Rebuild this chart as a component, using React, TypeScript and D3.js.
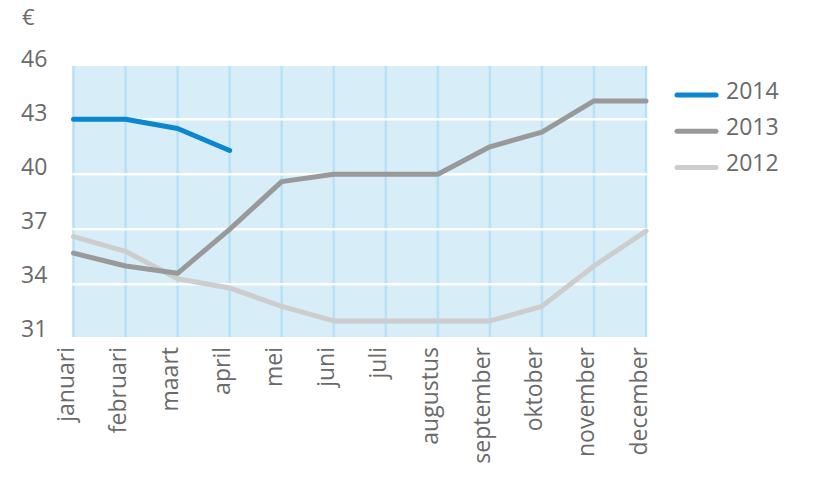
import React, { useRef, useEffect } from "react";
import * as d3 from "d3";

// maanden (x-as)
const months = [
  "januari",
  "februari",
  "maart",
  "april",
  "mei",
  "juni",
  "juli",
  "augustus",
  "september",
  "oktober",
  "november",
  "december",
];

// prijs per maand
const values2014 = [43.0, 43.0, 42.5, 41.3];
const values2013 = [35.7, 35.0, 34.6, 37.0, 39.6, 40.0, 40.0, 40.0, 41.5, 42.3, 44.0, 44.0];
const values2012 = [36.6, 35.8, 34.3, 33.8, 32.8, 32.0, 32.0, 32.0, 32.0, 32.8, 35.0, 36.9];

const yTicks = [31, 34, 37, 40, 43, 46];
const gridValues = [34, 37, 40, 43];

const seriesNames = ["2014", "2013", "2012"];
const seriesColors = ["#0a87d0", "#999999", "#cdcdcd"];

const W = 838;
const H = 494;
const FONT = "'Open Sans', 'DejaVu Sans', sans-serif";
const TEXT = "#6a6a6a";

const App: React.FC = () => {
  const svgRef = useRef<SVGSVGElement>(null);

  useEffect(() => {
    if (!svgRef.current) return;
    const svg = d3.select(svgRef.current);
    svg.selectAll("*").remove();

    const x = d3.scalePoint<string>().domain(months).range([73.5, 646]);
    const y = d3.scaleLinear().domain([31, 46]).range([339.3, 64.3]);
    // labels staan iets gelijkmatiger dan het raster
    const yLabel = d3.scaleLinear().domain([31, 46]).range([337, 67]);

    const left = x(months[0])! - 1;
    const right = x(months[months.length - 1])! + 1;
    const top = 66;
    const bottom = 337;

    // achtergrond
    svg
      .append("rect")
      .attr("x", left)
      .attr("y", top)
      .attr("width", right - left)
      .attr("height", bottom - top)
      .attr("fill", "#d7edf8");

    // verticale rasterlijnen
    svg
      .append("g")
      .selectAll("line")
      .data(months)
      .enter()
      .append("line")
      .attr("x1", (d) => x(d)!)
      .attr("x2", (d) => x(d)!)
      .attr("y1", top)
      .attr("y2", bottom)
      .attr("stroke", "#b8e1f6")
      .attr("stroke-width", 2.5);

    // horizontale witte lijnen
    svg
      .append("g")
      .selectAll("line")
      .data(gridValues)
      .enter()
      .append("line")
      .attr("x1", left)
      .attr("x2", right)
      .attr("y1", (d) => y(d))
      .attr("y2", (d) => y(d))
      .attr("stroke", "#ffffff")
      .attr("stroke-width", 2.5);

    // y-as labels
    svg
      .append("g")
      .selectAll("text")
      .data(yTicks)
      .enter()
      .append("text")
      .attr("x", 21)
      .attr("y", (d) => yLabel(d))
      .attr("font-family", FONT)
      .attr("font-size", 23)
      .attr("fill", TEXT)
      .text((d) => d);

    svg
      .append("text")
      .attr("x", 22)
      .attr("y", 25)
      .attr("font-family", FONT)
      .attr("font-size", 22)
      .attr("fill", TEXT)
      .text("€");

    // x-as labels (gedraaid)
    svg
      .append("g")
      .selectAll("text")
      .data(months)
      .enter()
      .append("text")
      .attr("transform", (d) => `translate(${x(d)! + 0.5},347) rotate(-90)`)
      .attr("text-anchor", "end")
      .attr("font-family", FONT)
      .attr("font-size", 23)
      .attr("fill", TEXT)
      .text((d) => d);

    // lijnen
    const line = d3
      .line<number>()
      .x((_, i) => x(months[i])!)
      .y((d) => y(d));

    const all = [values2014, values2013, values2012];
    [2, 1, 0].forEach((i) => {
      svg
        .append("path")
        .datum(all[i])
        .attr("fill", "none")
        .attr("stroke", seriesColors[i])
        .attr("stroke-width", 5)
        .attr("stroke-linejoin", "round")
        .attr("stroke-linecap", "round")
        .attr("d", line);
    });

    // legenda
    const legend = svg
      .append("g")
      .selectAll("g")
      .data(seriesNames)
      .enter()
      .append("g")
      .attr("transform", (_, i) => `translate(0,${95 + i * 36.3})`);

    legend
      .append("line")
      .attr("x1", 677)
      .attr("x2", 716)
      .attr("stroke", (_, i) => seriesColors[i])
      .attr("stroke-width", 5)
      .attr("stroke-linecap", "round");

    legend
      .append("text")
      .attr("x", 726)
      .attr("y", 3.5)
      .attr("font-family", FONT)
      .attr("font-size", 23)
      .attr("fill", TEXT)
      .text((d) => d);
  }, []);

  return (
    <svg
      ref={svgRef}
      width={W}
      height={H}
      style={{ position: "absolute", left: 0, top: 0, background: "#fff" }}
    />
  );
};

export default App;
